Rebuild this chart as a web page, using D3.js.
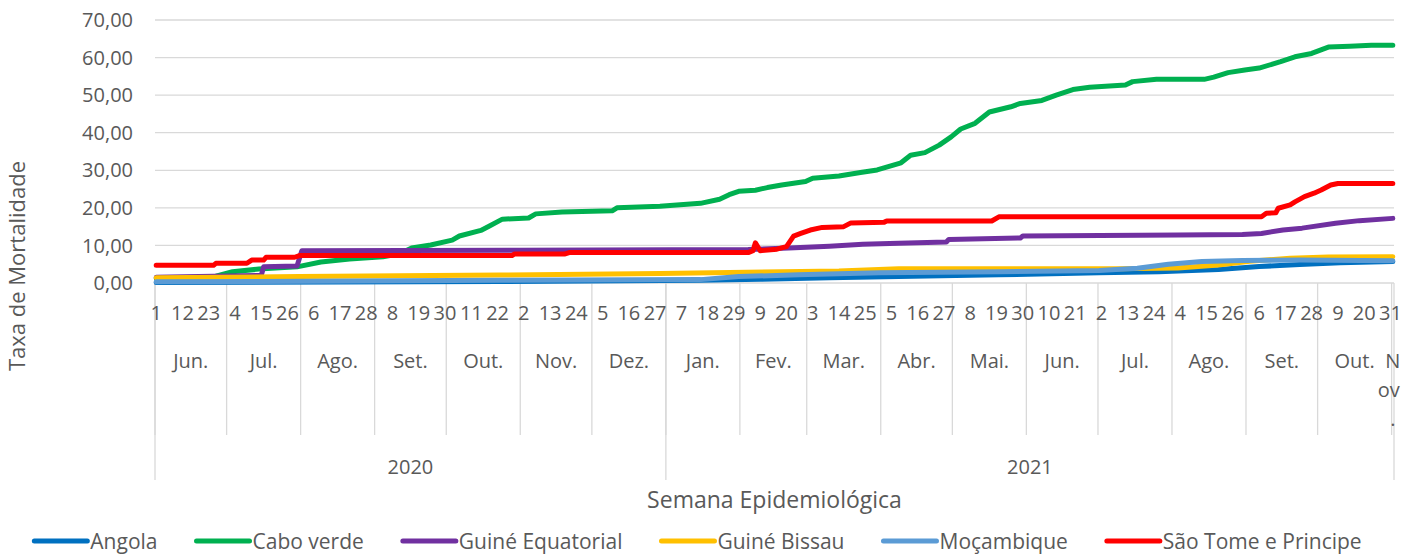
<!DOCTYPE html>
<html>
<head>
<meta charset="utf-8">
<script src="https://cdn.jsdelivr.net/npm/d3@7"></script>
<style>
  body { margin: 0; background: #fff; }
  svg text { font-family: "Open Sans", sans-serif; fill: #595959; }
</style>
</head>
<body>
<div id="chart"></div>
<script>
// Categorias (uma por dia)
const FIRST_DAY = '2020-06-01', LAST_DAY = '2021-11-01';
const MONTH_LABELS = ['Jun.', 'Jul.', 'Ago.', 'Set.', 'Out.', 'Nov.', 'Dez.', 'Jan.', 'Fev.', 'Mar.', 'Abr.', 'Mai.', 'Jun.', 'Jul.', 'Ago.', 'Set.', 'Out.', 'Nov.'];
const YEAR_LABELS = ['2020', '2021'];
const Y_TICKS = [0, 10, 20, 30, 40, 50, 60, 70];
const DAY_LABEL_STEP = 11;

const SERIES_NAMES = ['Angola', 'Cabo verde', 'Guiné Equatorial', 'Guiné Bissau', 'Moçambique', 'São Tome e Principe'];
const SERIES_COLORS = ['#0070C0', '#00B050', '#7030A0', '#FFC000', '#5B9BD5', '#FF0000'];

// Valores [data, taxa]
const angola = [['2020-06-01', 0.1], ['2020-10-23', 0.4], ['2021-01-15', 0.7], ['2021-02-09', 1.0], ['2021-03-10', 1.4], ['2021-04-08', 1.7], ['2021-05-20', 2.2], ['2021-07-01', 2.7], ['2021-07-26', 3.0], ['2021-08-20', 3.6], ['2021-09-06', 4.4], ['2021-09-23', 4.9], ['2021-10-10', 5.4], ['2021-11-01', 5.7]];

const caboVerde = [['2020-06-01', 1.2], ['2020-06-19', 1.5], ['2020-06-26', 1.8], ['2020-07-03', 3.0], ['2020-07-14', 3.7], ['2020-07-30', 4.3], ['2020-08-09', 5.6], ['2020-08-21', 6.4], ['2020-09-04', 7.0], ['2020-09-11', 7.8], ['2020-09-16', 9.3], ['2020-09-24', 10.1], ['2020-10-03', 11.4], ['2020-10-06', 12.5], ['2020-10-15', 14.0], ['2020-10-19', 15.3], ['2020-10-24', 17.0], ['2020-11-04', 17.3], ['2020-11-07', 18.4], ['2020-11-18', 18.9], ['2020-12-09', 19.2], ['2020-12-11', 20.0], ['2020-12-29', 20.4], ['2021-01-15', 21.2], ['2021-01-23', 22.3], ['2021-01-27', 23.5], ['2021-01-31', 24.4], ['2021-02-07', 24.7], ['2021-02-12', 25.4], ['2021-02-18', 26.1], ['2021-02-28', 27.0], ['2021-03-03', 27.9], ['2021-03-14', 28.5], ['2021-03-23', 29.4], ['2021-03-30', 30.1], ['2021-04-09', 32.0], ['2021-04-13', 34.0], ['2021-04-19', 34.7], ['2021-04-25', 36.7], ['2021-04-30', 38.9], ['2021-05-04', 41.0], ['2021-05-10', 42.5], ['2021-05-16', 45.5], ['2021-05-25', 46.9], ['2021-05-29', 47.8], ['2021-06-07', 48.6], ['2021-06-13', 50.0], ['2021-06-20', 51.5], ['2021-06-27', 52.1], ['2021-07-12', 52.7], ['2021-07-15', 53.6], ['2021-07-25', 54.2], ['2021-08-14', 54.2], ['2021-08-18', 54.8], ['2021-08-24', 56.0], ['2021-08-31', 56.7], ['2021-09-06', 57.2], ['2021-09-15', 58.9], ['2021-09-21', 60.2], ['2021-09-28', 61.1], ['2021-10-05', 62.8], ['2021-10-14', 63.0], ['2021-10-23', 63.3], ['2021-11-01', 63.3]];

const guineEquatorial = [['2020-06-01', 1.5], ['2020-07-15', 2.0], ['2020-07-16', 4.3], ['2020-07-30', 4.5], ['2020-08-01', 8.6], ['2020-10-31', 8.7], ['2021-02-04', 8.9], ['2021-02-21', 9.3], ['2021-03-10', 9.8], ['2021-03-24', 10.3], ['2021-04-08', 10.6], ['2021-04-28', 10.9], ['2021-04-29', 11.6], ['2021-05-29', 12.0], ['2021-05-30', 12.5], ['2021-08-03', 12.8], ['2021-08-30', 12.9], ['2021-09-07', 13.2], ['2021-09-16', 14.1], ['2021-09-24', 14.6], ['2021-10-08', 15.9], ['2021-10-18', 16.6], ['2021-11-01', 17.2]];

const guineBissau = [['2020-06-01', 1.4], ['2020-07-31', 1.7], ['2020-09-11', 1.9], ['2020-10-23', 2.1], ['2020-12-29', 2.5], ['2021-03-14', 3.2], ['2021-04-08', 3.8], ['2021-07-09', 3.8], ['2021-08-03', 4.0], ['2021-08-20', 4.8], ['2021-09-02', 5.8], ['2021-09-19', 6.6], ['2021-10-05', 6.9], ['2021-11-01', 7.0]];

const mocambique = [['2020-06-01', 0.3], ['2020-10-23', 0.7], ['2021-01-15', 0.9], ['2021-01-31', 1.7], ['2021-02-25', 2.2], ['2021-03-31', 2.7], ['2021-05-20', 3.0], ['2021-07-01', 3.3], ['2021-07-17', 3.9], ['2021-07-30', 5.0], ['2021-08-13', 5.7], ['2021-08-30', 6.0], ['2021-09-23', 6.1], ['2021-11-01', 5.9]];

const saoTome = [['2020-06-01', 4.7], ['2020-06-25', 4.7], ['2020-06-26', 5.25], ['2020-07-09', 5.25], ['2020-07-11', 6.1], ['2020-07-16', 6.1], ['2020-07-17', 6.85], ['2020-07-29', 6.85], ['2020-07-31', 7.3], ['2020-10-28', 7.3], ['2020-10-29', 7.7], ['2020-11-19', 7.7], ['2020-11-21', 8.1], ['2021-02-04', 8.1], ['2021-02-06', 8.6], ['2021-02-07', 10.7], ['2021-02-09', 8.6], ['2021-02-16', 9.0], ['2021-02-20', 9.7], ['2021-02-23', 12.5], ['2021-02-26', 13.2], ['2021-03-02', 14.1], ['2021-03-07', 14.8], ['2021-03-16', 15.0], ['2021-03-19', 16.0], ['2021-04-02', 16.2], ['2021-04-03', 16.5], ['2021-05-17', 16.5], ['2021-05-20', 17.6], ['2021-09-07', 17.65], ['2021-09-09', 18.55], ['2021-09-13', 18.7], ['2021-09-14', 19.9], ['2021-09-19', 20.8], ['2021-09-21', 21.6], ['2021-09-25', 23.0], ['2021-09-29', 23.9], ['2021-10-02', 24.75], ['2021-10-06', 26.1], ['2021-10-09', 26.5], ['2021-11-01', 26.5]];

const SERIES_VALUES = [angola, caboVerde, guineEquatorial, guineBissau, mocambique, saoTome];

init();

function init() {
    let width = 1410, height = 554;
    let margin = {top: 20, right: 16, bottom: 271, left: 155};
    let plotW = width - margin.left - margin.right,
        plotH = height - margin.top - margin.bottom;

    let svg = d3.select('#chart')
        .append('svg')
            .attr('width', width)
            .attr('height', height);

    let parse = d3.timeParse('%Y-%m-%d'),
        fmt = d3.timeFormat('%Y-%m-%d');
    let days = d3.timeDay.range(parse(FIRST_DAY), d3.timeDay.offset(parse(LAST_DAY), 1));
    let keys = days.map(fmt);

    let x = d3.scaleBand()
        .domain(keys)
        .range([margin.left, margin.left + plotW]);

    let y = d3.scaleLinear()
        .domain([0, 70])
        .range([margin.top + plotH, margin.top]);

    let locale = d3.formatLocale({decimal: ',', thousands: '.', grouping: [3], currency: ['', '']});
    let f = locale.format('.2f');

    //Grelha
    svg.append('g')
        .selectAll('line')
        .data(Y_TICKS)
        .enter()
        .append('line')
            .attr('x1', margin.left)
            .attr('x2', margin.left + plotW)
            .attr('y1', d => y(d))
            .attr('y2', d => y(d))
            .attr('stroke', '#D9D9D9')
            .attr('stroke-width', 1.3);

    svg.append('g')
        .selectAll('text')
        .data(Y_TICKS)
        .enter()
        .append('text')
            .attr('x', margin.left - 22)
            .attr('y', d => y(d))
            .attr('dy', '0.36em')
            .attr('text-anchor', 'end')
            .style('font-size', '20px')
            .text(d => f(d));

    //Eixo de categorias em 3 niveis
    let axisY = y(0);
    let bw = x.bandwidth();

    let months = d3.groups(days, d => d3.timeFormat('%Y-%m')(d)).map((g, i) => ({
        label: MONTH_LABELS[i],
        x0: x(fmt(g[1][0])),
        x1: x(fmt(g[1][g[1].length - 1])) + bw
    }));
    let years = d3.groups(days, d => d.getFullYear()).map((g, i) => ({
        label: YEAR_LABELS[i],
        x0: x(fmt(g[1][0])),
        x1: x(fmt(g[1][g[1].length - 1])) + bw
    }));

    let sep = svg.append('g').attr('stroke', '#D9D9D9').attr('stroke-width', 1.3);
    sep.selectAll('.msep')
        .data(months)
        .enter()
        .append('line')
            .attr('x1', d => d.x0).attr('x2', d => d.x0)
            .attr('y1', axisY).attr('y2', 435);
    sep.selectAll('.ysep')
        .data(years.map(d => d.x0).concat([years[years.length - 1].x1]))
        .enter()
        .append('line')
            .attr('x1', d => d).attr('x2', d => d)
            .attr('y1', axisY).attr('y2', 480);

    svg.append('g')
        .selectAll('text')
        .data(days.filter((d, i) => i % DAY_LABEL_STEP == 0))
        .enter()
        .append('text')
            .attr('x', d => x(fmt(d)) + bw / 2)
            .attr('y', 320)
            .attr('text-anchor', 'middle')
            .style('font-size', '20px')
            .text(d => d.getDate());

    let mt = svg.append('g')
        .selectAll('text')
        .data(months)
        .enter()
        .append('text')
            .attr('x', d => (d.x0 + d.x1) / 2)
            .attr('y', 368)
            .attr('text-anchor', 'middle')
            .style('font-size', '20px');
    mt.each(function(d) {
        let el = d3.select(this);
        // mes estreito: o texto quebra por caracteres como no Excel
        let lines = (d.x1 - d.x0) < 30 ? [d.label[0], d.label.slice(1, -1), d.label.slice(-1)] : [d.label];
        lines.forEach((l, i) => {
            el.append('tspan')
                .attr('x', (d.x0 + d.x1) / 2 + (i == 1 ? -4 : 0))
                .attr('dy', i == 0 ? 0 : 29)
                .text(l);
        });
    });

    svg.append('g')
        .selectAll('text')
        .data(years)
        .enter()
        .append('text')
            .attr('x', d => (d.x0 + d.x1) / 2)
            .attr('y', 474)
            .attr('text-anchor', 'middle')
            .style('font-size', '20px')
            .text(d => d.label);

    //Titulos dos eixos
    svg.append('text')
        .attr('x', margin.left + plotW / 2)
        .attr('y', 508)
        .attr('text-anchor', 'middle')
        .style('font-size', '23px')
        .text('Semana Epidemiológica');

    svg.append('text')
        .attr('transform', 'translate(25,266) rotate(-90)')
        .attr('text-anchor', 'middle')
        .style('font-size', '22px')
        .text('Taxa de Mortalidade');

    //Linhas
    let line = d3.line()
        .x(d => x(d[0]) + bw / 2)
        .y(d => y(d[1]));

    svg.append('g')
        .selectAll('path')
        .data(SERIES_VALUES)
        .enter()
        .append('path')
            .attr('d', d => line(d))
            .attr('fill', 'none')
            .attr('stroke', (d, i) => SERIES_COLORS[i])
            .attr('stroke-width', 5)
            .attr('stroke-linejoin', 'round')
            .attr('stroke-linecap', 'round');

    //Legenda
    let legend = svg.append('g');
    let item = legend.selectAll('g')
        .data(SERIES_NAMES)
        .enter()
        .append('g');
    item.append('line')
        .attr('x1', 2).attr('x2', 55)
        .attr('y1', 0).attr('y2', 0)
        .attr('stroke', (d, i) => SERIES_COLORS[i])
        .attr('stroke-width', 5)
        .attr('stroke-linecap', 'round');
    item.append('text')
        .attr('x', 58)
        .attr('dy', '0.36em')
        .style('font-size', '21px')
        .text(d => d);

    let pos = 0, positions = [];
    item.each(function() {
        positions.push(pos);
        pos += 58 + this.querySelector('text').getComputedTextLength() + 37;
    });
    let total = pos - 37;
    let start = 697 - total / 2;
    item.attr('transform', (d, i) => 'translate(' + (start + positions[i]) + ',541)');
}
</script>
</body>
</html>
